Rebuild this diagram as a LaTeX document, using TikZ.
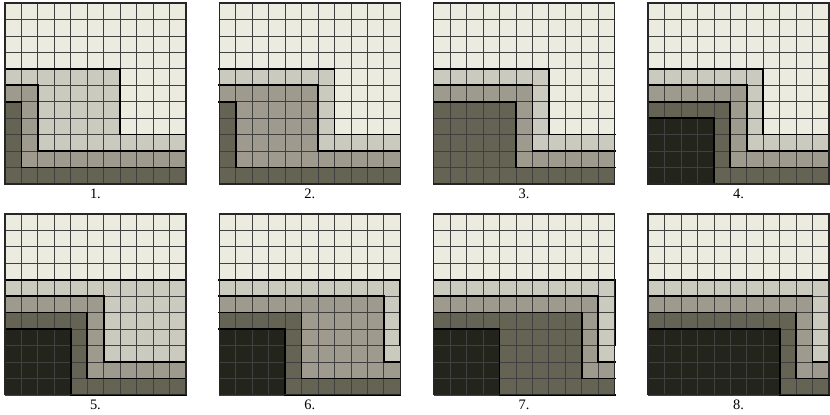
\documentclass[tikz,border=0pt]{standalone}
\usepackage{fontspec}
\setmainfont{Liberation Serif}
\usepackage{tikz}
\definecolor{lvzero}{RGB}{235,235,223}
\definecolor{lvone}{RGB}{203,202,191}
\definecolor{lvtwo}{RGB}{158,154,142}
\definecolor{lvthree}{RGB}{101,99,84}
\definecolor{lvfour}{RGB}{35,37,28}

\begin{document}
\begin{tikzpicture}[
  x=0.5cm, y=0.5cm,
  every node/.style={font=\fontsize{12.5}{14}\selectfont},
  gridline/.style={line width=0.6pt, draw=black!75},
  frontier/.style={line width=1.5pt, draw=black, line cap=rect},
  frame/.style={line width=1.1pt, draw=black!85},
  numlabel/.style={inner sep=0pt, anchor=center}
]
\useasboundingbox (0,0) rectangle (50.45,25.22);
% Eight stages, 4 per row; \aa..\ad = column where each front turns down
\foreach \n/\px/\py/\aa/\ab/\ac/\ad in {
    1/0.30/14.04/7/2/1/0,   2/13.33/14.04/7/6/1/0,
    3/26.36/14.04/7/6/5/0,  4/39.39/14.04/7/6/5/4,
    5/0.30/1.22/11/6/5/4,   6/13.33/1.22/11/10/5/4,
    7/26.36/1.22/11/10/9/4, 8/39.39/1.22/11/10/9/8}{
  \begin{scope}[shift={(\px,\py)}]
    % background level
    \fill[lvzero] (0,0) rectangle (11,11);
    % levels 1..4: L-shaped regions {x<a, y<top} + {y<bot}
    \foreach \a/\tp/\bt/\col in {\aa/7/3/lvone, \ab/6/2/lvtwo, \ac/5/1/lvthree, \ad/4/0/lvfour}
      \fill[\col] (0,0) -| (11,\bt) -| (\a,\tp) -| (0,0) -- cycle;
    \draw[gridline, step=0.5cm] (0,0) grid (11,11);
    % thick fronts between levels
    \foreach \a/\tp/\bt in {\aa/7/3, \ab/6/2, \ac/5/1, \ad/4/0}{
      \ifnum\a>0
        \draw[frontier] (0,\tp) -| (\a,\bt) -- (11,\bt);
      \fi
    }
    \draw[frame] (0,0) rectangle (11,11);
    \node[numlabel] (lab\n) at (5.5,-0.58) {\n.};
  \end{scope}
}
\end{tikzpicture}
\end{document}
